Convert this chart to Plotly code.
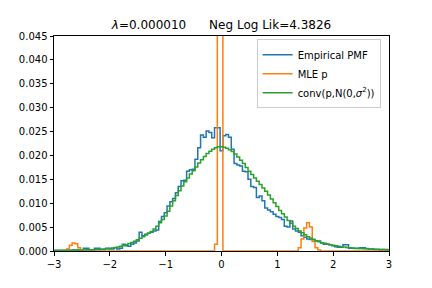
import numpy as np
import plotly.graph_objects as go

# bin centres (step 0.05 from -3 to 3)
x_centres = np.round(np.linspace(-3, 3, 121), 2)

# values in units of 1e-3
empirical_pmf_milli = [
    0.1, 0.1, 0.1, 0.1, 0.1, 0.1, 0.1, 0.2, 0.1, 0.2,
    0.1, 0.6, 0.6, 0.2, 0.2, 0.6, 0.6, 0.3, 0.3, 0.6,
    0.4, 0.4, 0.7, 0.4, 0.6, 1.4, 1.1, 1.0, 1.4, 1.7,
    2.1, 3.9, 3.2, 3.5, 3.7, 3.9, 4.2, 4.4, 6.2, 7.2,
    8.0, 9.4, 10.3, 11.0, 12.2, 13.5, 14.7, 14.8, 16.7, 17.0,
    17.1, 19.2, 21.6, 24.3, 23.8, 25.1, 24.8, 23.7, 25.8, 25.8,
    21.0, 24.1, 24.4, 23.8, 21.3, 18.3, 18.0, 17.8, 16.7, 16.6,
    15.0, 13.5, 13.3, 11.2, 11.5, 10.5, 9.0, 8.6, 8.2, 7.7,
    7.2, 7.0, 6.6, 5.2, 5.0, 6.3, 4.6, 4.2, 3.9, 3.2,
    2.9, 2.5, 2.4, 2.4, 2.1, 2.1, 1.7, 1.4, 1.4, 1.3,
    1.1, 0.9, 0.8, 0.8, 1.3, 1.3, 0.6, 0.6, 0.5, 0.5,
    0.7, 0.7, 0.5, 0.4, 0.4, 0.3, 0.3, 0.2, 0.3, 0.2,
    0.2,
]

mle_p_milli = [
    0, 0, 0, 0, 0, 0.4, 1.2, 1.7, 1.5, 0.7,
    0.1, 0, 0, 0, 0, 0, 0, 0, 0, 0,
    0, 0, 0, 0, 0, 0, 0, 0, 0, 0,
    0, 0, 0, 0, 0, 0, 0, 0, 0, 0,
    0, 0, 0, 0, 0, 0, 0, 0, 0, 0,
    0, 0, 0, 0, 0, 0, 0, 0, 1.4, 450,
    400, 0, 0, 0, 0, 0, 0, 0, 0, 0,
    0, 0, 0, 0, 0, 0, 0, 0, 0, 0,
    0, 0, 0, 0, 0, 0, 0, 0, 0.7, 2.5,
    4.8, 5.9, 5.0, 2.0, 0.7, 0.2, 0, 0, 0, 0,
    0, 0, 0, 0, 0, 0, 0, 0, 0, 0,
    0, 0, 0, 0, 0, 0, 0, 0, 0, 0,
    0,
]

conv_milli = [
    0.15, 0.15, 0.15, 0.16, 0.17, 0.18, 0.18, 0.19, 0.2, 0.2,
    0.2, 0.22, 0.24, 0.26, 0.28, 0.3, 0.33, 0.37, 0.42, 0.48,
    0.55, 0.63, 0.73, 0.85, 1.0, 1.15, 1.33, 1.55, 1.8, 2.05,
    2.35, 2.65, 3.0, 3.35, 3.7, 4.1, 4.6, 5.2, 5.9, 6.6,
    7.3, 8.3, 9.4, 10.5, 11.6, 12.6, 13.6, 14.5, 15.3, 16.1,
    16.8, 17.6, 18.4, 19.1, 19.8, 20.4, 20.9, 21.3, 21.6, 21.8,
    21.8, 21.7, 21.5, 21.2, 20.8, 20.3, 19.7, 19.0, 18.3, 17.5,
    16.7, 16.0, 15.3, 14.6, 13.9, 13.2, 12.5, 11.7, 10.9, 10.1,
    9.3, 8.5, 7.8, 7.1, 6.4, 5.8, 5.2, 4.7, 4.2, 3.8,
    3.4, 3.0, 2.7, 2.4, 2.15, 1.95, 1.75, 1.6, 1.45, 1.3,
    1.2, 1.1, 1.0, 0.9, 0.82, 0.75, 0.7, 0.65, 0.6, 0.56,
    0.52, 0.48, 0.45, 0.42, 0.4, 0.38, 0.36, 0.34, 0.32, 0.3,
    0.28,
]

x_tick_vals = [-3, -2, -1, 0, 1, 2, 3]
x_tick_text = ["\u22123", "\u22122", "\u22121", "0", "1", "2", "3"]
y_tick_vals = [0.0, 0.005, 0.010, 0.015, 0.020, 0.025, 0.030, 0.035, 0.040, 0.045]
y_tick_text = ["0.000", "0.005", "0.010", "0.015", "0.020", "0.025",
               "0.030", "0.035", "0.040", "0.045"]

series = [
    ("Empirical PMF", empirical_pmf_milli, "#1f77b4"),
    ("MLE p", mle_p_milli, "#ff7f0e"),
    ("conv(p,N(0,<i>σ</i><sup>2</sup>))", conv_milli, "#2ca02c"),
]

fig = go.Figure()
for name, vals, col in series:
    y = np.array(vals, dtype=float) / 1000.0
    n = min(len(y), len(x_centres))
    fig.add_trace(go.Scatter(
        x=x_centres[:n], y=y[:n], mode="lines", name=name,
        line=dict(color=col, width=1.5, shape="hvh"),
    ))

font = "DejaVu Sans"
axis_common = dict(
    showline=True, linecolor="black", linewidth=1, mirror=True,
    ticks="outside", ticklen=3.5, tickwidth=1, tickcolor="black",
    showgrid=False, zeroline=False,
    tickfont=dict(family=font, size=10, color="black"),
)

fig.update_layout(
    width=432, height=288,
    margin=dict(l=54, r=43, t=36, b=37),
    paper_bgcolor="white", plot_bgcolor="white",
    font=dict(family=font, size=10, color="black"),
    title=dict(
        text="<i>λ</i>=0.000010\u00a0\u00a0\u00a0\u00a0\u00a0\u00a0Neg Log Lik=4.3826",
        x=0.5, xref="paper", xanchor="center",
        y=1 - 25 / 288, yref="container", yanchor="middle",
        font=dict(family=font, size=12, color="black"),
    ),
    xaxis=dict(range=[-3, 3], tickvals=x_tick_vals, ticktext=x_tick_text, **axis_common),
    yaxis=dict(range=[0, 0.045], tickvals=y_tick_vals, ticktext=y_tick_text, **axis_common),
    legend=dict(
        x=0.975, y=0.985, xanchor="right", yanchor="top",
        bgcolor="rgba(255,255,255,0.8)", bordercolor="#cccccc", borderwidth=1,
        font=dict(family=font, size=10, color="black"),
        itemwidth=30, tracegroupgap=0,
    ),
    showlegend=True,
)

fig.write_html(
    "out.html",
    config={"displayModeBar": False},
    post_script="document.body.style.margin='0';document.body.style.padding='0';",
)
